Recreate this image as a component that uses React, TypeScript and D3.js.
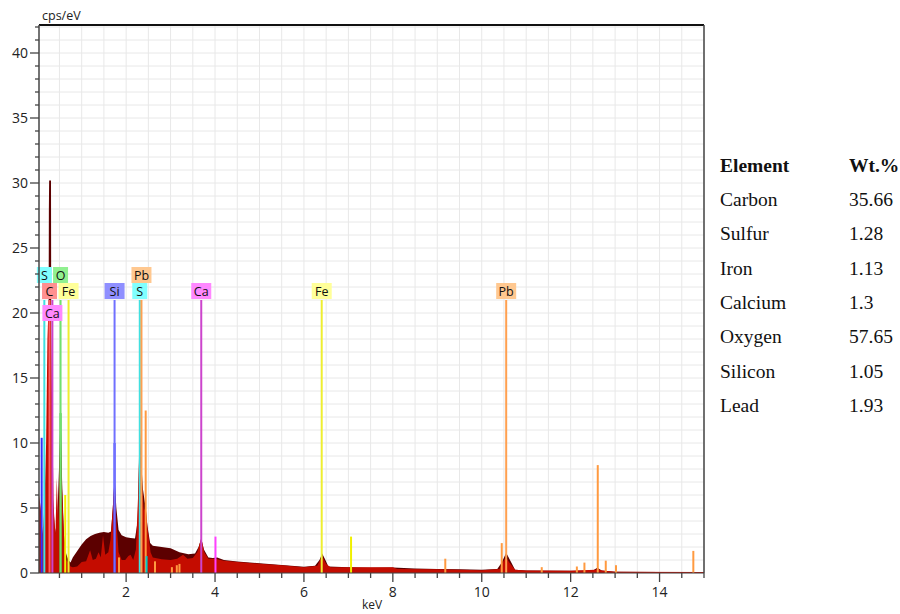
import React from 'react';
import * as d3 from 'd3';

// Spectrum (dark envelope)
const darkKeV = [0.04,0.1,0.14,0.17,0.22,0.25,0.262,0.268,0.31,0.318,0.35,0.4,0.45,0.49,0.515,0.525,0.535,0.56,0.6,0.65,0.7,0.75,0.8,0.9,1.0,1.1,1.2,1.3,1.4,1.5,1.6,1.66,1.70,1.74,1.78,1.83,1.9,2.0,2.1,2.2,2.26,2.29,2.31,2.34,2.38,2.44,2.48,2.54,2.6,2.8,3.0,3.2,3.4,3.55,3.63,3.69,3.75,3.85,3.95,4.05,4.2,4.5,5.0,5.5,6.0,6.25,6.35,6.41,6.47,6.55,7.0,7.5,8.0,8.5,9.0,9.5,10.0,10.35,10.45,10.55,10.65,10.75,11.0,12.0,12.5,12.6,12.7,13.0,14.0,15.0];
const darkCps = [0,0.5,2,4,6,10,28,30.2,30.2,14,6,3,4,8,11,12.3,11,7,3,1.5,1.0,0.8,1.2,1.7,2.2,2.6,2.85,3.0,3.1,3.15,3.1,3.2,5.0,7.4,5.0,3.3,2.9,2.75,2.7,2.65,4,9,11,8.5,6.4,5.0,3.6,2.3,2.1,2.0,1.9,1.6,1.45,1.5,2.0,2.65,1.8,1.2,1.15,1.2,1.0,0.88,0.75,0.62,0.48,0.55,1.0,1.5,1.1,0.5,0.45,0.4,0.42,0.35,0.3,0.28,0.25,0.3,0.8,1.55,0.9,0.25,0.2,0.17,0.2,0.4,0.2,0.1,0.08,0.07];

// Spectrum (red foreground)
const redKeV = [0.04,0.08,0.12,0.16,0.2,0.23,0.26,0.3,0.33,0.37,0.41,0.44,0.47,0.5,0.53,0.55,0.6,0.65,0.7,0.75,0.8,0.9,1.0,1.1,1.19,1.25,1.32,1.38,1.43,1.48,1.53,1.6,1.65,1.70,1.74,1.78,1.83,1.9,1.98,2.05,2.1,2.16,2.22,2.27,2.31,2.35,2.4,2.44,2.48,2.55,2.6,2.8,3.0,3.15,3.28,3.38,3.5,3.6,3.69,3.76,3.85,4.0,4.2,4.5,5.0,5.5,6.0,6.3,6.41,6.5,6.6,7.0,8.0,8.1,9.0,10.0,10.4,10.5,10.55,10.62,10.75,11.0,12.0,12.55,12.6,12.7,13.0,15.0];
const redCps = [6,5,3,5,10,18,21,21,14,5,3,7.3,4,8,11,7.1,3,1,0.8,0.5,0.45,0.5,0.85,0.9,1.75,1.0,1.1,1.6,1.2,2.9,1.4,1.6,2.6,5,7.2,4,1.6,1.0,1.0,1.3,1.4,1.0,1.8,6,11,7,4.8,5.1,3.5,1.6,1.2,1.05,1.0,1.1,1.4,1.1,1.15,1.6,2.7,1.6,1.1,1.1,0.95,0.85,0.72,0.6,0.45,0.55,1.3,0.7,0.45,0.45,0.45,0.3,0.28,0.22,0.3,1.0,1.2,0.8,0.25,0.2,0.17,0.25,0.3,0.2,0.1,0.08];

// Labelled element markers
const markerLabels = ['S','O','C','Fe','Ca','Si','S','Pb','Ca','Fe','Pb'];
const markerKeV = [0.16,0.525,0.277,0.705,0.341,1.74,2.307,2.345,3.69,6.40,10.55];
const markerRow = [0,0,1,1,2,1,1,0,1,1,1];
const markerTop = 21;

// Secondary (unlabelled) lines
const minorEl = ['Si','Si','O','Fe','Pb','S','Pb','Pb','Pb','Pb','Pb','Ca','Fe','Pb','Pb','Pb','Pb','Pb','Pb','Pb','Pb','Pb'];
const minorKeV = [0.1,1.74,0.525,0.63,2.44,2.46,1.84,2.65,3.03,3.14,3.2,4.01,7.06,9.18,10.45,11.35,12.14,12.31,12.61,12.79,13.02,14.76];
const minorCps = [10.4,10,12.3,6,12.5,1.3,1.2,0.9,0.45,0.6,0.7,2.8,2.8,1.1,2.3,0.45,0.5,0.8,8.3,0.95,0.6,1.7];

// Table
const tableElements = ['Carbon','Sulfur','Iron','Calcium','Oxygen','Silicon','Lead'];
const tableWt = ['35.66','1.28','1.13','1.3','57.65','1.05','1.93'];

const xTickLabels = [2,4,6,8,10,12,14];
const yTickLabels = [0,5,10,15,20,25,30,35,40];

const lineColor: Record<string,string> = {S:'#40e0e0',O:'#70e070',C:'#ff6060',Fe:'#eeee30',Ca:'#cc44cc',Si:'#7070ff',Pb:'#ffa050'};
const minorColor: Record<string,string> = {S:'#00c8c8',O:'#30c030',C:'#ff3030',Fe:'#f0f000',Ca:'#ff40ff',Si:'#3030ff',Pb:'#ff9a40'};
const boxColor: Record<string,string> = {S:'#80ffff',O:'#90f090',C:'#ff9090',Fe:'#ffff99',Ca:'#ff88ff',Si:'#8f8fff',Pb:'#ffc890'};

export default function App() {
  const L = 39, R = 704, T = 25, B = 573;
  const x = d3.scaleLinear().domain([0.04, 15]).range([L, R]);
  const y = d3.scaleLinear().domain([0, (B - T) / 13]).range([B, T]);

  const darkData = darkKeV.map((k, i) => [k, darkCps[i]] as [number, number]);
  const redData = redKeV.map((k, i) => [k, redCps[i]] as [number, number]);
  const area = d3.area<[number, number]>().x(d => x(d[0])).y0(y(0)).y1(d => y(d[1])).curve(d3.curveLinear);

  const yMinor = d3.range(0, 43, 1);
  const xMinor = d3.range(0.5, 15.01, 0.5);

  const rowTops = [y(markerTop) - 33, y(markerTop) - 17, y(markerTop) + 5];
  const font = '"Open Sans", "DejaVu Sans", sans-serif';

  return (
    <svg width={900} height={614} style={{ position: 'absolute', left: 0, top: 0, background: '#fff' }}>
      <defs>
        <clipPath id="plot"><rect x={L} y={T} width={R - L} height={B - T} /></clipPath>
      </defs>
      {/* grid */}
      <g stroke="#e8e8e8" strokeWidth={1}>
        {yMinor.map(v => <line key={'gy' + v} x1={L} x2={R} y1={y(v)} y2={y(v)} />)}
        {xMinor.map(v => <line key={'gx' + v} x1={x(v)} x2={x(v)} y1={T} y2={B} />)}
      </g>
      <g clipPath="url(#plot)">
        <path d={area(darkData) || ''} fill="#5c0000" />
        <path d={area(redData) || ''} fill="#c40c00" />
        {minorEl.map((e, i) => (
          <line key={'mn' + i} x1={x(minorKeV[i])} x2={x(minorKeV[i])} y1={y(0)} y2={y(minorCps[i])}
            stroke={minorColor[e]} strokeWidth={2} />
        ))}
        {markerLabels.map((e, i) => (
          <line key={'mk' + i} x1={x(markerKeV[i])} x2={x(markerKeV[i])} y1={y(0)} y2={y(markerTop)}
            stroke={lineColor[e]} strokeWidth={2} />
        ))}
      </g>
      {markerLabels.map((e, i) => {
        const w = e.length === 1 ? 15 : 20;
        const cx = x(markerKeV[i]);
        const top = rowTops[markerRow[i]];
        return (
          <g key={'lb' + i}>
            <rect x={cx - w / 2} y={top} width={w} height={16} fill={boxColor[e]} />
            <text x={cx} y={top + 12.5} textAnchor="middle" fontSize={12.5} fontFamily={font} fill="#111">{e}</text>
          </g>
        );
      })}
      {/* axes */}
      <line x1={L} x2={R} y1={T} y2={T} stroke="#111" strokeWidth={2} />
      <line x1={R} x2={R} y1={T} y2={B} stroke="#444" strokeWidth={1.5} />
      <line x1={L} x2={L} y1={T} y2={B} stroke="#444" strokeWidth={1.5} />
      <line x1={L} x2={R} y1={B} y2={B} stroke="#444" strokeWidth={1} />
      {yMinor.map(v => (
        <line key={'ty' + v} x1={L - (v % 5 === 0 ? 9 : 4)} x2={L} y1={y(v)} y2={y(v)} stroke="#444" strokeWidth={1.3} />
      ))}
      {yTickLabels.map(v => (
        <text key={'yl' + v} x={28} y={y(v) + 5} textAnchor="end" fontSize={14} fontFamily={font} fill="#222">{v}</text>
      ))}
      {xMinor.map(v => (
        <line key={'tx' + v} x1={x(v)} x2={x(v)} y1={B} y2={B + (v % 2 === 0 ? 9 : 5)} stroke="#444" strokeWidth={1.3} />
      ))}
      {xTickLabels.map(v => (
        <text key={'xl' + v} x={x(v)} y={597} textAnchor="middle" fontSize={14} fontFamily={font} fill="#222">{v}</text>
      ))}
      <text x={42} y={20} fontSize={12.5} fontFamily={font} fill="#222">cps/eV</text>
      <text x={372} y={609} textAnchor="middle" fontSize={12} fontFamily={font} fill="#222">keV</text>
      {/* table */}
      <g fontFamily='"Liberation Serif", "Times New Roman", serif' fontSize={19.5} fill="#111">
        <text x={720} y={171.5} fontWeight="bold">Element</text>
        <text x={849} y={171.5} fontWeight="bold">Wt.%</text>
        {tableElements.map((e, i) => (
          <g key={'tr' + i}>
            <text x={720} y={206 + i * 34.3}>{e}</text>
            <text x={849} y={206 + i * 34.3}>{tableWt[i]}</text>
          </g>
        ))}
      </g>
    </svg>
  );
}
